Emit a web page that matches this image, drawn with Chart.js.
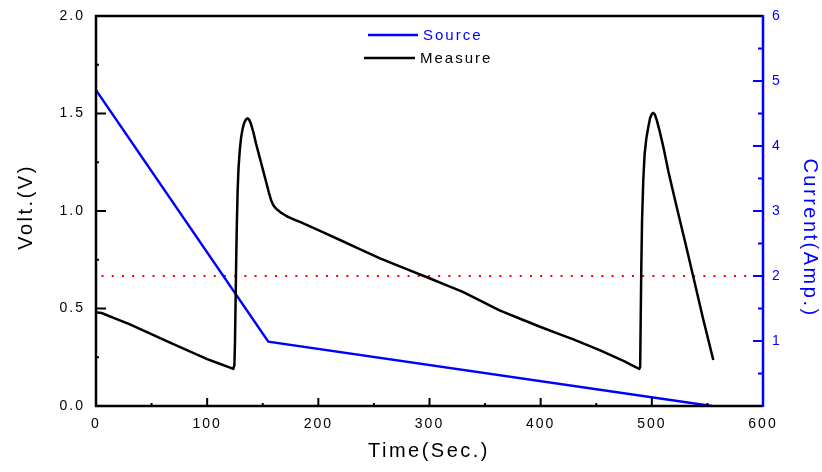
<!DOCTYPE html>
<html>
<head>
<meta charset="utf-8">
<script src="https://cdn.jsdelivr.net/npm/chart.js@4.4.1/dist/chart.umd.min.js"></script>
<style>
  html, body { margin: 0; padding: 0; background: #fff; }
  canvas { display: block; }
</style>
</head>
<body>
<canvas id="grafica" width="822" height="472"></canvas>
<script>
// datos
const measureTime = [0, 1.2, 5, 30, 66.6, 100, 120, 123.5, 124.5, 125, 125.6, 126.2, 126.8, 127.4, 128.2, 129.3, 130.6, 132, 133.5, 135, 136.4, 137.8, 139.5, 141.5, 144, 147, 150, 153, 155.5, 157.5, 159.5, 162, 166, 171.5, 180, 188, 220, 255.5, 300, 330, 363, 400, 430, 453, 475, 488.7, 489.5, 490, 490.5, 491.2, 492.3, 493.5, 495, 496.8, 498.5, 500, 501.3, 502.7, 504.5, 507, 510.3, 515, 522.3, 530, 537.3, 546, 555.3];
const measureVolt = [0.48, 0.48, 0.477, 0.42, 0.325, 0.24, 0.198, 0.19, 0.21, 0.32, 0.55, 0.78, 0.96, 1.1, 1.22, 1.31, 1.38, 1.425, 1.455, 1.47, 1.475, 1.468, 1.445, 1.405, 1.345, 1.28, 1.215, 1.15, 1.095, 1.055, 1.03, 1.012, 0.993, 0.973, 0.952, 0.933, 0.85, 0.757, 0.655, 0.585, 0.49, 0.405, 0.34, 0.287, 0.23, 0.19, 0.2, 0.45, 0.7, 0.95, 1.159, 1.29, 1.37, 1.43, 1.478, 1.497, 1.503, 1.495, 1.465, 1.41, 1.33, 1.2, 1.022, 0.84, 0.663, 0.45, 0.236];
const sourceTime = [0, 155, 554];
const sourceAmp = [4.86, 0.99, 0];
const refTime = [5, 600];
const refAmp = [2, 2];

const FONT = '"Liberation Sans", Arial, sans-serif';
const AZUL = '#0000ff';

function puntos(xs, ys) {
    return xs.map((x, i) => ({ x: x, y: ys[i] }));
}

// marco, marcas interiores, titulos de ejes y leyenda
const decoracion = {
    id: 'decoracion',
    beforeDraw(chart) {
        chart.ctx.letterSpacing = '2px';
    },
    afterDraw(chart) {
        const ctx = chart.ctx;
        const a = chart.chartArea;
        const sx = chart.scales.x, sy = chart.scales.y, sy2 = chart.scales.y2;
        ctx.save();
        ctx.lineWidth = 2;
        ctx.lineCap = 'butt';

        // ticks eje x
        ctx.strokeStyle = '#000';
        for (let v = 0; v <= 600; v += 50) {
            const px = sx.getPixelForValue(v);
            const len = v % 100 === 0 ? 8 : 3;
            ctx.beginPath(); ctx.moveTo(px, a.bottom); ctx.lineTo(px, a.bottom - len); ctx.stroke();
        }
        // ticks eje izquierdo
        for (let v = 0; v <= 2; v += 0.25) {
            const py = sy.getPixelForValue(v);
            const len = Math.abs(v * 2 - Math.round(v * 2)) < 1e-6 ? 10 : 3;
            ctx.beginPath(); ctx.moveTo(a.left, py); ctx.lineTo(a.left + len, py); ctx.stroke();
        }
        // ticks eje derecho
        ctx.strokeStyle = AZUL;
        for (let v = 0; v <= 6; v += 0.5) {
            const py = sy2.getPixelForValue(v);
            const len = v % 1 === 0 ? 10 : 5;
            ctx.beginPath(); ctx.moveTo(a.right, py); ctx.lineTo(a.right - len, py); ctx.stroke();
        }

        // marco
        ctx.lineWidth = 2.5;
        ctx.strokeStyle = '#000';
        ctx.beginPath();
        ctx.moveTo(a.right, a.top); ctx.lineTo(a.left, a.top);
        ctx.lineTo(a.left, a.bottom); ctx.lineTo(a.right, a.bottom);
        ctx.stroke();
        ctx.strokeStyle = AZUL;
        ctx.beginPath(); ctx.moveTo(a.right, a.top - 1); ctx.lineTo(a.right, a.bottom + 1); ctx.stroke();

        // titulos
        ctx.letterSpacing = '2.5px';
        ctx.font = '20px ' + FONT;
        ctx.textAlign = 'center';
        ctx.textBaseline = 'middle';
        ctx.fillStyle = '#000';
        ctx.fillText('Time(Sec.)', 429, 451);
        ctx.save();
        ctx.translate(26, 207);
        ctx.rotate(-Math.PI / 2);
        ctx.fillText('Volt.(V)', 0, 0);
        ctx.restore();
        ctx.save();
        ctx.fillStyle = AZUL;
        ctx.translate(810, 238);
        ctx.rotate(Math.PI / 2);
        ctx.fillText('Current(Amp.)', 0, 0);
        ctx.restore();

        // leyenda
        ctx.letterSpacing = '2px';
        ctx.font = '15px ' + FONT;
        ctx.textAlign = 'left';
        ctx.lineWidth = 2.5;
        ctx.strokeStyle = AZUL;
        ctx.beginPath(); ctx.moveTo(368, 35); ctx.lineTo(418, 35); ctx.stroke();
        ctx.fillStyle = AZUL;
        ctx.fillText('Source', 423, 36);
        ctx.strokeStyle = '#000';
        ctx.beginPath(); ctx.moveTo(364, 58); ctx.lineTo(415, 58); ctx.stroke();
        ctx.fillStyle = '#000';
        ctx.fillText('Measure', 420, 59);
        ctx.restore();
    }
};

document.addEventListener('DOMContentLoaded', function() {
    const ctx = document.getElementById('grafica').getContext('2d');

    new Chart(ctx, {
        type: 'line',
        data: {
            datasets: [{
                label: 'Measure',
                data: puntos(measureTime, measureVolt),
                yAxisID: 'y',
                borderColor: '#000',
                borderWidth: 2.5,
                borderJoinStyle: 'round',
                pointRadius: 0,
                tension: 0.0001 // evita el trazado rapido que agrupa puntos por columna
            }, {
                label: 'Source',
                data: puntos(sourceTime, sourceAmp),
                yAxisID: 'y2',
                borderColor: AZUL,
                borderWidth: 2.5,
                pointRadius: 0,
                tension: 0
            }, {
                label: 'ref',
                data: puntos(refTime, refAmp),
                yAxisID: 'y2',
                borderColor: '#ff0000',
                borderWidth: 2,
                borderDash: [2, 8.2],
                pointRadius: 0
            }]
        },
        options: {
            responsive: false,
            animation: false,
            devicePixelRatio: 1,
            layout: { padding: { top: 16, left: 0, right: 0, bottom: 0 } },
            plugins: { legend: { display: false }, tooltip: { enabled: false } },
            scales: {
                x: {
                    type: 'linear',
                    min: 0, max: 600,
                    grid: { display: false, drawTicks: false },
                    border: { display: false },
                    ticks: { stepSize: 100, padding: 10, color: '#000', font: { family: FONT, size: 14 } },
                    afterFit: s => { s.height = 66; s.paddingLeft = 0; s.paddingRight = 0; }
                },
                y: {
                    position: 'left',
                    min: 0, max: 2,
                    grid: { display: false, drawTicks: false },
                    border: { display: false },
                    ticks: { stepSize: 0.5, padding: 11, color: '#000', font: { family: FONT, size: 14 },
                        callback: v => v.toFixed(1) },
                    afterFit: s => { s.width = 96; s.paddingTop = 0; s.paddingBottom = 0; }
                },
                y2: {
                    position: 'right',
                    min: 0, max: 6,
                    grid: { display: false, drawTicks: false },
                    border: { display: false },
                    ticks: { stepSize: 1, padding: 9, color: AZUL, font: { family: FONT, size: 14 },
                        callback: v => v === 0 ? '' : String(v) },
                    afterFit: s => { s.width = 59; s.paddingTop = 0; s.paddingBottom = 0; }
                }
            }
        },
        plugins: [decoracion]
    });
});
</script>
</body>
</html>
